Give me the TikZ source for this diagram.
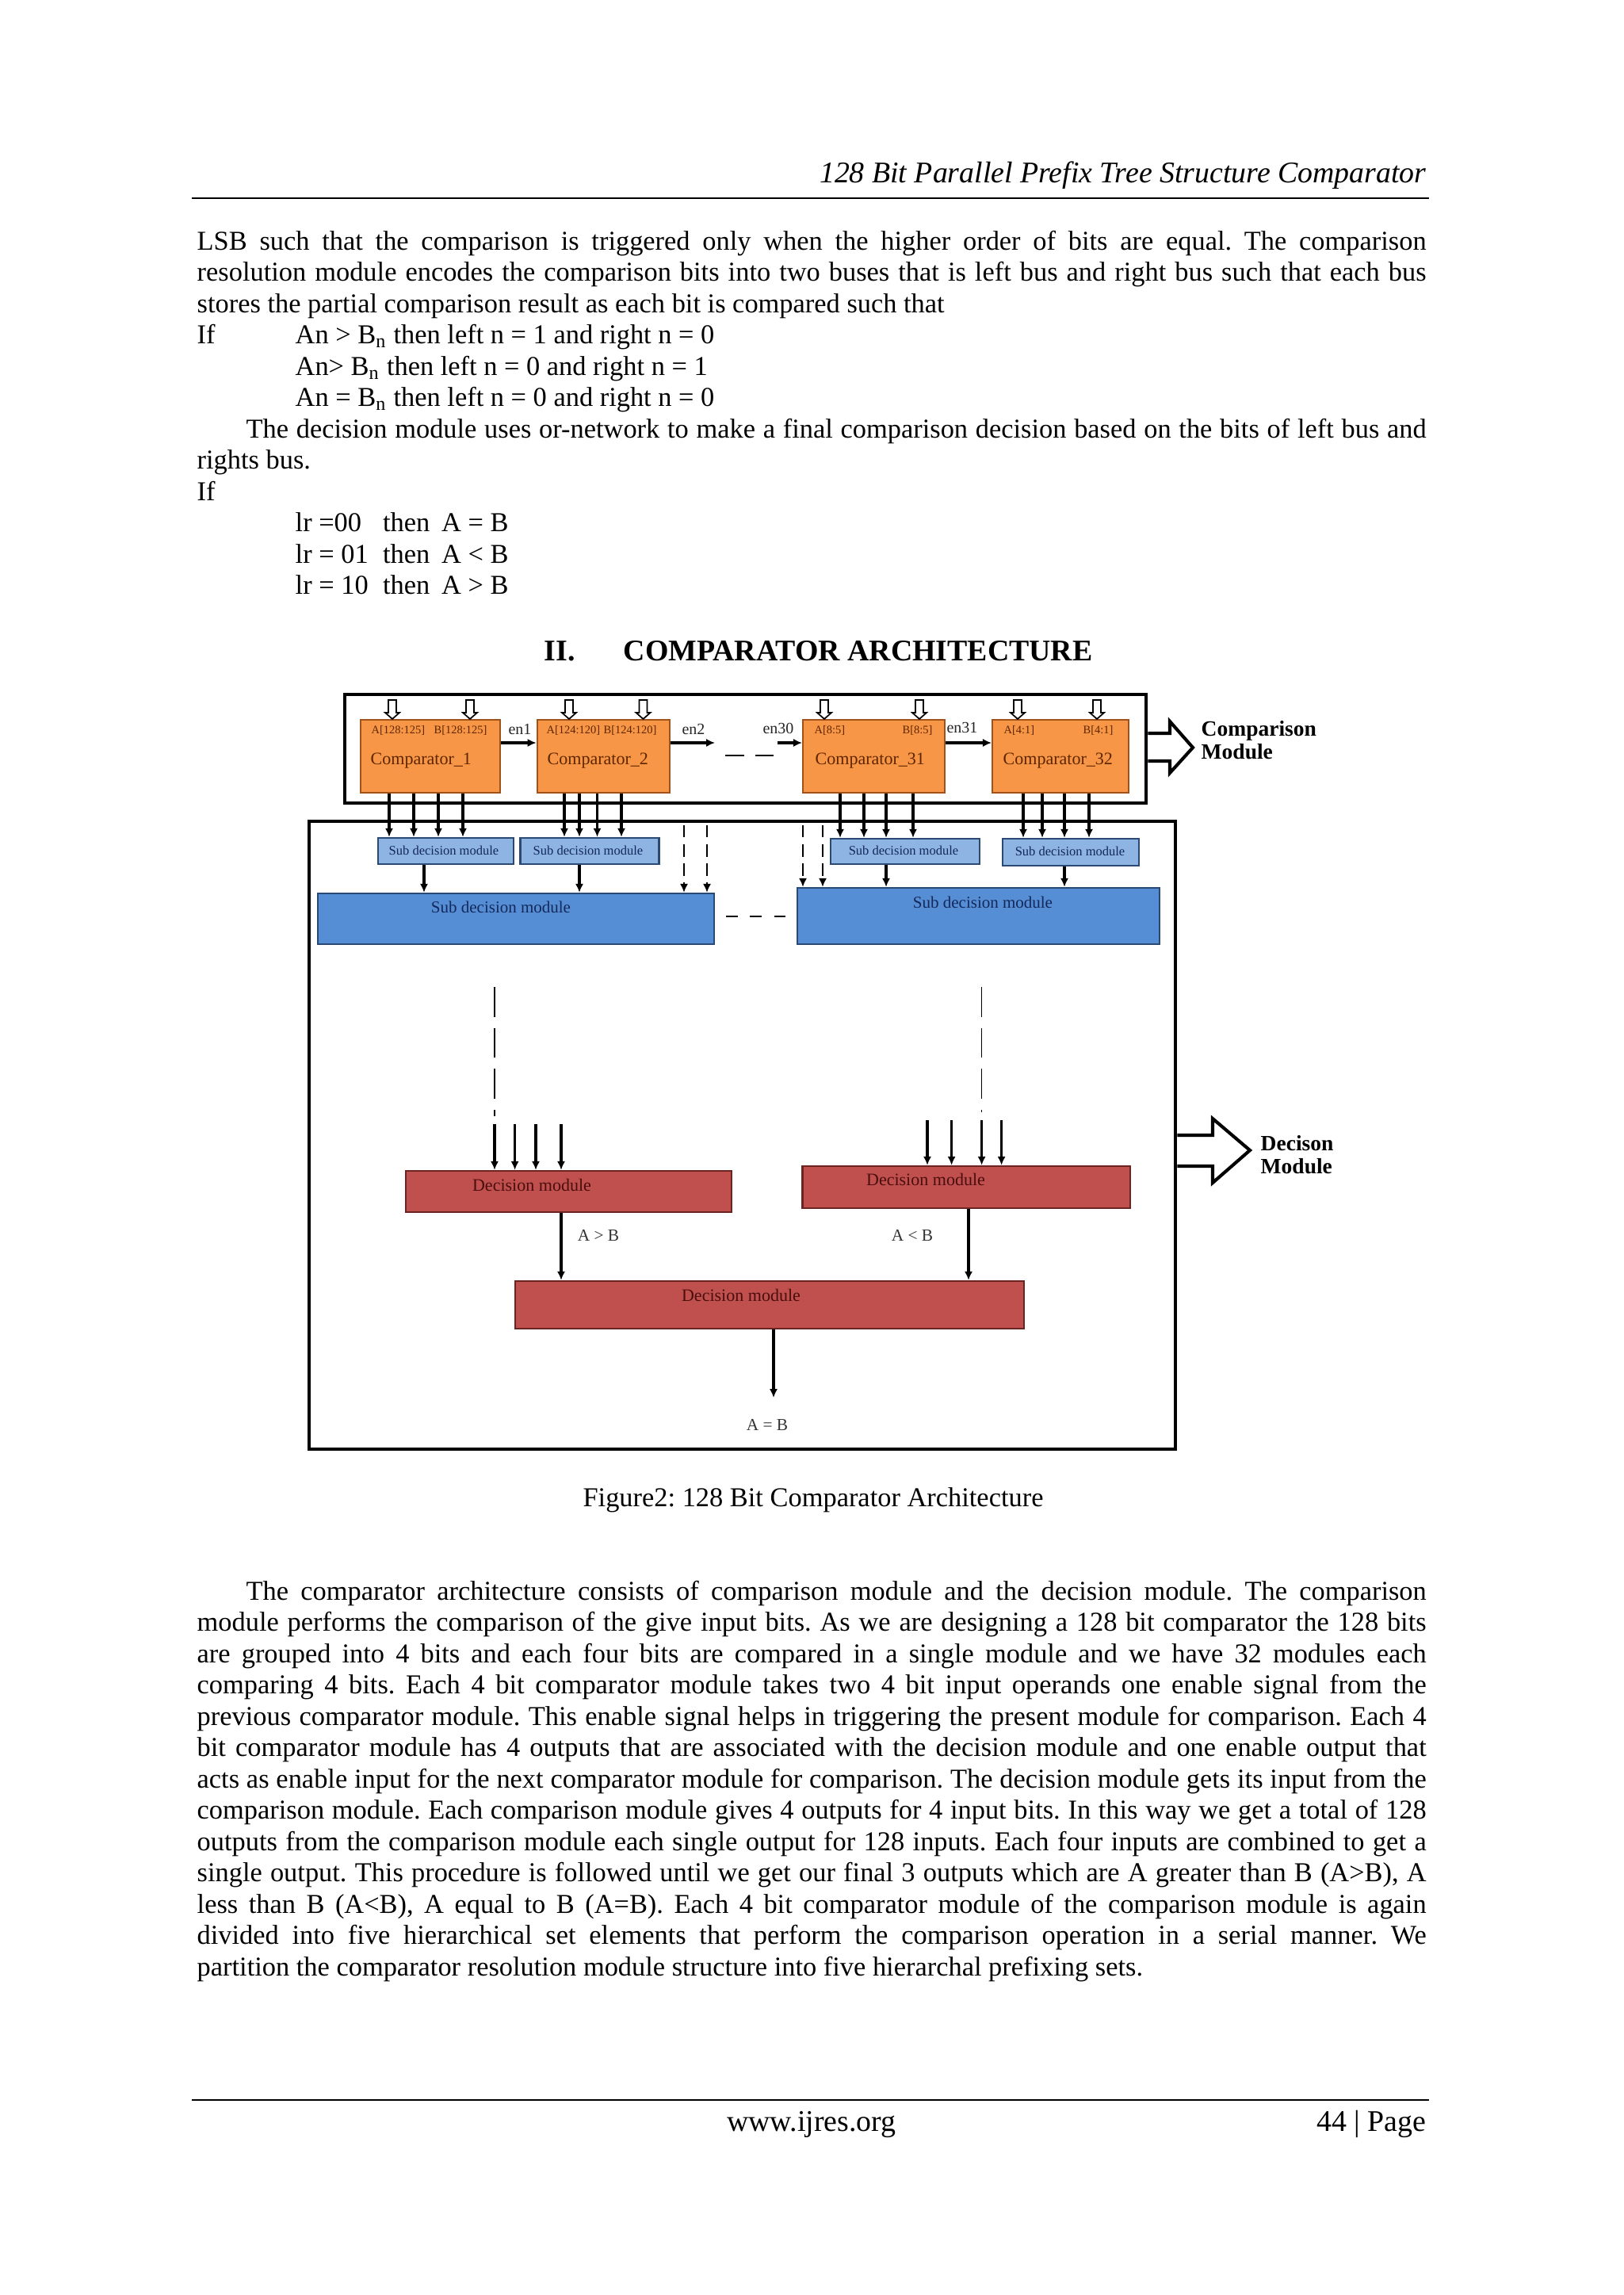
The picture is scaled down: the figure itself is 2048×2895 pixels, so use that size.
\documentclass[tikz,border=0pt]{standalone}
\usepackage{fontspec}
\setmainfont{Liberation Serif}
\usetikzlibrary{arrows.meta,fit,calc}
\frenchspacing
\newlength\BodyW
\setlength\BodyW{450.8pt}
\definecolor{cmpfill}{HTML}{F79646}
\definecolor{cmpdraw}{HTML}{A0521A}
\definecolor{cmptext}{HTML}{5E2600}
\definecolor{sdsfill}{HTML}{8EB4E3}
\definecolor{sdsdraw}{HTML}{2B4A73}
\definecolor{sdbfill}{HTML}{558ED5}
\definecolor{sdbdraw}{HTML}{2B4A73}
\definecolor{sdtext}{HTML}{14285A}
\definecolor{decfill}{HTML}{C0504D}
\definecolor{decdraw}{HTML}{6B2422}
\definecolor{dectext}{HTML}{4A0E0E}
\newcommand\JL[4]{\node[bodytxt] (#1) at (#2,#3) {\makebox[\BodyW][s]{#4}};}
\newcommand\JI[4]{\node[bodytxt] (#1) at (#2,#3) {\makebox[\dimexpr\BodyW-18pt\relax][s]{#4}};}
\newcommand\PL[4]{\node[bodytxt] (#1) at (#2,#3) {#4};}
\newcommand\LR[6]{\node[bodytxt] (#1) at (#2,#3) {\makebox[32.1pt][l]{#4}\makebox[21.5pt][l]{#5}#6};}
\begin{document}
\begin{tikzpicture}[x=0.290664pt,y=-0.290664pt,
  bodytxt/.style={anchor=base west, inner sep=0pt, font=\fontsize{10}{11.5}\selectfont},
  outerframe/.style={draw=black, line width=1.3pt, inner sep=0pt},
  cmpbox/.style={fill=cmpfill, draw=cmpdraw, line width=0.6pt, inner sep=0pt},
  sdsbox/.style={fill=sdsfill, draw=sdsdraw, line width=0.7pt, inner sep=0pt},
  sdbbox/.style={fill=sdbfill, draw=sdbdraw, line width=0.7pt, inner sep=0pt},
  decbox/.style={fill=decfill, draw=decdraw, line width=0.7pt, inner sep=0pt},
  cmpname/.style={anchor=base west, inner sep=0pt, text=cmptext, font=\fontsize{6.4}{7}\selectfont},
  cmplbl/.style={anchor=base west, inner sep=0pt, text=cmptext, font=\fontsize{4.2}{5}\selectfont},
  enlbl/.style={inner sep=0pt, text=black!85, font=\fontsize{5.8}{7}\selectfont},
  sdstxt/.style={inner sep=0pt, text=sdtext, font=\fontsize{4.8}{6}\selectfont},
  sdbtxt/.style={inner sep=0pt, text=sdtext, font=\fontsize{6.1}{7}\selectfont},
  dectxt/.style={inner sep=0pt, text=dectext, font=\fontsize{6.4}{7}\selectfont},
  reslbl/.style={inner sep=0pt, text=black!80, font=\fontsize{6.2}{7}\selectfont},
  sidelbl/.style={anchor=base west, inner sep=0pt, font=\bfseries\fontsize{8}{9}\selectfont},
  arr/.style={line width=0.9pt, -{Latex[length=3.2pt,width=3pt]}},
  dasharr/.style={line width=0.6pt, dash pattern=on 4.5pt off 2.5pt, -{Latex[length=3.2pt,width=3pt]}},
  longdash/.style={line width=0.45pt, dash pattern=on 11pt off 4pt},
  hollow/.style={draw=black, line width=1.2pt, line join=miter},
  inarrow/.pic={\draw[line width=0.5pt, fill=white] (0,0) -- (-9,-8) -- (-5,-8) -- (-5,-24) -- (5,-24) -- (5,-8) -- (9,-8) -- cycle;}
]
\fill[white] (0,0) rectangle (2048,2895);
\useasboundingbox (0,0) rectangle (2048,2895);

% ---------- header ----------
\node[anchor=base east, inner sep=0pt, font=\itshape\fontsize{11}{13}\selectfont] (hdr) at (1800,230) {128 Bit Parallel Prefix Tree Structure Comparator};
\draw[line width=0.8pt] (242,250) -- (1803,250);

% ---------- first text block ----------
\JL{L1}{248}{315}{LSB such that the comparison is triggered only when the higher order of bits are equal. The comparison}
\JL{L2}{248}{354.5}{resolution module encodes the comparison bits into two buses that is left bus and right bus such that each bus}
\PL{L3}{248}{394}{stores the partial comparison result as each bit is compared such that}
\PL{L4a}{248}{433.5}{If}
\PL{L4b}{372}{433.5}{An > B\textsubscript{n} then left n = 1 and right n = 0}
\PL{L5}{372}{473}{An> B\textsubscript{n} then left n = 0 and right n = 1}
\PL{L6}{372}{512.5}{An = B\textsubscript{n} then left n = 0 and right n = 0}
\JI{L7}{310}{552}{The decision module uses or-network to make a final comparison decision based on the bits of left bus and}
\PL{L8}{248}{591.5}{rights bus.}
\PL{L9}{248}{631}{If}
\LR{L10}{372}{670.5}{lr =00}{then}{A = B}
\LR{L11}{372}{710}{lr = 01}{then}{A < B}
\LR{L12}{372}{749.5}{lr = 10}{then}{A > B}

% ---------- section heading ----------
\node[anchor=base west, inner sep=0pt, font=\bfseries\fontsize{11}{13}\selectfont] (secnum) at (686,833) {II.};
\node[anchor=base west, inner sep=0pt, font=\bfseries\fontsize{11}{13}\selectfont] (sectitle) at (786,833) {COMPARATOR ARCHITECTURE};

% ---------- diagram frames ----------
\node[outerframe, fit={(435,876) (1446,1013)}] (cmpframe) {};
\node[outerframe, fit={(390,1036) (1483,1828)}] (decframe) {};

% comparators
\node[cmpbox, fit={(455,908) (631,1000)}] (c1) {};
\node[cmpbox, fit={(677.6,908) (845.4,1000)}] (c2) {};
\node[cmpbox, fit={(1013,908) (1192,1000)}] (c31) {};
\node[cmpbox, fit={(1252,908) (1424,1000)}] (c32) {};

\node[cmplbl] (c1a) at (468,925.5) {A[128:125]};
\node[cmplbl] (c1b) at (547,925.5) {B[128:125]};
\node[cmplbl] (c2a) at (689,925.5) {A[124:120]};
\node[cmplbl] (c2b) at (761,925.5) {B[124:120]};
\node[cmplbl] (c31a) at (1027,925.5) {A[8:5]};
\node[cmplbl] (c31b) at (1138,925.5) {B[8:5]};
\node[cmplbl] (c32a) at (1266,925.5) {A[4:1]};
\node[cmplbl] (c32b) at (1366,925.5) {B[4:1]};

\node[cmpname] (c1n) at (467,964) {Comparator\_1};
\node[cmpname] (c2n) at (690,964) {Comparator\_2};
\node[cmpname] (c31n) at (1028,964) {Comparator\_31};
\node[cmpname] (c32n) at (1265,964) {Comparator\_32};

% input hollow arrows
\pic at (495,0 |- c1.north) {inarrow};
\pic at (593,0 |- c1.north) {inarrow};
\pic at (718,0 |- c2.north) {inarrow};
\pic at (811.5,0 |- c2.north) {inarrow};
\pic at (1040,0 |- c31.north) {inarrow};
\pic at (1160,0 |- c31.north) {inarrow};
\pic at (1284,0 |- c32.north) {inarrow};
\pic at (1384,0 |- c32.north) {inarrow};

% enable chain
\coordinate (en2end) at (902,937);
\coordinate (en30start) at (981,937);
\draw[arr] (c1.east |- 0,937) -- (c2.west |- 0,937);
\draw[arr] (c2.east |- 0,937) -- (en2end);
\draw[arr] (en30start) -- (c31.west |- 0,937);
\draw[arr] (c31.east |- 0,937) -- (c32.west |- 0,937);
\node[enlbl] (en1) at (656,920) {en1};
\node[enlbl] (en2) at (875,920) {en2};
\node[enlbl] (en30) at (982,919) {en30};
\node[enlbl] (en31) at (1214,918) {en31};
\draw[line width=0.7pt, dash pattern=on 7pt off 4pt] (915,953) -- (976,953);

% comparison module side arrow
\draw[hollow] (cmpframe.east |- 0,925) -- (1476,925) -- (1476,910) -- (1505,943) -- (1476,975) -- (1476,960) -- (cmpframe.east |- 0,960);
\node[sidelbl] (cmtxt1) at (1515,928) {Comparison};
\node[sidelbl] (cmtxt2) at (1515,957) {Module};

% small sub decision modules
\node[sdsbox, fit={(477,1057) (648,1090)}] (s1) {};
\node[sdsbox, fit={(656.6,1057) (831.6,1090)}] (s2) {};
\node[sdsbox, fit={(1048,1058) (1236,1090)}] (s3) {};
\node[sdsbox, fit={(1265,1058) (1437,1092)}] (s4) {};
\node[sdstxt] (s1t) at (560,1073) {Sub decision module};
\node[sdstxt] (s2t) at (742,1073) {Sub decision module};
\node[sdstxt] (s3t) at (1140,1073) {Sub decision module};
\node[sdstxt] (s4t) at (1350,1074) {Sub decision module};

\foreach \x in {491,522,553,584} \draw[arr] (\x,0 |- c1.south) -- (\x,0 |- s1.north);
\foreach \x in {712,731,753.5,784} \draw[arr] (\x,0 |- c2.south) -- (\x,0 |- s2.north);
\foreach \x in {1060,1090,1118,1152} \draw[arr] (\x,0 |- c31.south) -- (\x,0 |- s3.north);
\foreach \x in {1291,1315,1343,1374} \draw[arr] (\x,0 |- c32.south) -- (\x,0 |- s4.north);

% big sub decision modules
\node[sdbbox, fit={(401,1127) (901,1191)}] (B1) {};
\node[sdbbox, fit={(1006,1120) (1463,1191)}] (B2) {};
\node[sdbtxt] (B1t) at (632,1144) {Sub decision module};
\node[sdbtxt] (B2t) at (1240,1138) {Sub decision module};

\draw[arr] (535,0 |- s1.south) -- (535,0 |- B1.north);
\draw[arr] (731,0 |- s2.south) -- (731,0 |- B1.north);
\draw[arr] (1118,0 |- s3.south) -- (1118,0 |- B2.north);
\draw[arr] (1343,0 |- s4.south) -- (1343,0 |- B2.north);

\coordinate (dv1) at (863,1041);
\coordinate (dv2) at (892,1041);
\coordinate (dv3) at (1013,1041);
\coordinate (dv4) at (1038,1041);
\draw[dasharr] (dv1) -- (dv1 |- B1.north);
\draw[dasharr] (dv2) -- (dv2 |- B1.north);
\draw[dasharr] (dv3) -- (dv3 |- B2.north);
\draw[dasharr] (dv4) -- (dv4 |- B2.north);
\draw[line width=0.7pt, dash pattern=on 4.4pt off 4.4pt] (916,1156) -- (991,1156);

% long dashed links
\coordinate (lv1) at (624,1245);
\coordinate (lv2) at (1238.6,1245);
\draw[longdash] (lv1) -- (624,1408);
\draw[longdash] (lv2) -- (1238.6,1403);

% decision modules
\node[decbox, fit={(512,1477) (923,1529)}] (D1) {};
\node[decbox, fit={(1012.6,1471) (1426,1524)}] (D2) {};
\node[decbox, fit={(650,1616) (1292,1676)}] (D3) {};
\node[dectxt] (D1t) at (671,1495) {Decision module};
\node[dectxt] (D2t) at (1168,1488) {Decision module};
\node[dectxt] (D3t) at (935,1634) {Decision module};

\foreach \x/\n in {624/a,649.6/b,676/c,708/d} {
  \coordinate (li\n) at (\x,1418);
  \draw[arr] (li\n) -- (li\n |- D1.north);
}
\foreach \x/\n in {1170/a,1200.6/b,1238.6/c,1263.6/d} {
  \coordinate (ri\n) at (\x,1413);
  \draw[arr] (ri\n) -- (ri\n |- D2.north);
}

\draw[arr] (708,0 |- D1.south) -- (708,0 |- D3.north);
\draw[arr] (1222,0 |- D2.south) -- (1222,0 |- D3.north);
\coordinate (outAB) at (976,1763);
\draw[arr] (976,0 |- D3.south) -- (outAB);
\node[reslbl] (gt) at (755,1558) {A > B};
\node[reslbl] (lt) at (1151,1558) {A < B};
\node[reslbl] (eq) at (968,1797) {A = B};

% decision module side arrow
\draw[hollow] (decframe.east |- 0,1432) -- (1530,1432) -- (1530,1411) -- (1577,1451) -- (1530,1492) -- (1530,1471) -- (decframe.east |- 0,1471);
\node[sidelbl] (dmtxt1) at (1590,1451) {Decison};
\node[sidelbl] (dmtxt2) at (1590,1480) {Module};

% caption
\node[anchor=base, inner sep=0pt, font=\fontsize{10}{11.5}\selectfont] (cap) at (1026,1900) {Figure2: 128 Bit Comparator Architecture};

% ---------- second text block ----------
\JI{P1}{310}{2018}{The comparator architecture consists of comparison module and the decision module. The comparison}
\JL{P2}{248}{2057.5}{module performs the comparison of the give input bits. As we are designing a 128 bit comparator the 128 bits}
\JL{P3}{248}{2097}{are grouped into 4 bits and each four bits are compared in a single module and we have 32 modules each}
\JL{P4}{248}{2136.5}{comparing 4 bits. Each 4 bit comparator module takes two 4 bit input operands one enable signal from the}
\JL{P5}{248}{2176}{previous comparator module. This enable signal helps in triggering the present module for comparison. Each 4}
\JL{P6}{248}{2215.5}{bit comparator module has 4 outputs that are associated with the decision module and one enable output that}
\JL{P7}{248}{2255}{acts as enable input for the next comparator module for comparison. The decision module gets its input from the}
\JL{P8}{248}{2294.5}{comparison module. Each comparison module gives 4 outputs for 4 input bits. In this way we get a total of 128}
\JL{P9}{248}{2334}{outputs from the comparison module each single output for 128 inputs. Each four inputs are combined to get a}
\JL{P10}{248}{2373.5}{single output. This procedure is followed until we get our final 3 outputs which are A greater than B (A>B), A}
\JL{P11}{248}{2413}{less than B (A<B), A equal to B (A=B). Each 4 bit comparator module of the comparison module is again}
\JL{P12}{248}{2452.5}{divided into five hierarchical set elements that perform the comparison operation in a serial manner. We}
\PL{P13}{248}{2492}{partition the comparator resolution module structure into five hierarchal prefixing sets.}

% ---------- footer ----------
\draw[line width=0.8pt] (242,2649) -- (1803,2649);
\node[anchor=base, inner sep=0pt, font=\fontsize{11}{13}\selectfont] (site) at (1024,2688) {www.ijres.org};
\node[anchor=base east, inner sep=0pt, font=\fontsize{11}{13}\selectfont] (pg) at (1800,2688) {44 | Page};
\end{tikzpicture}
\end{document}
